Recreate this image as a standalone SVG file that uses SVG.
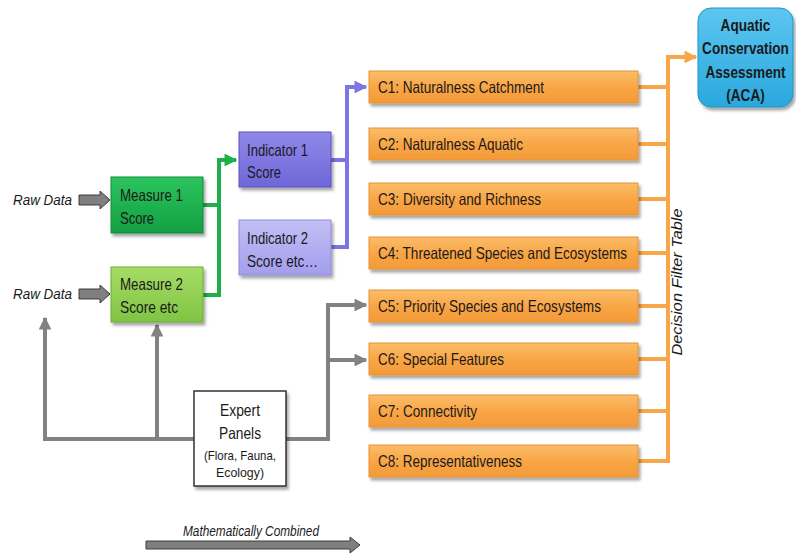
<svg xmlns="http://www.w3.org/2000/svg" width="796" height="554" viewBox="0 0 796 554">
<style>
text{font-family:"Liberation Sans",Arial,sans-serif;fill:#1a1a1a}
.bt{font-size:16.5px}
.it{font-style:italic;font-size:15.5px}
.c{font-size:16.5px}
.g{fill:none;stroke:#828282;stroke-width:4}
.gr{fill:none;stroke:#1fae4a;stroke-width:4}
.pu{fill:none;stroke:#7b76e4;stroke-width:4}
.or{fill:none;stroke:#f9a64a;stroke-width:4}
.cb{fill:url(#og);stroke:#e8923a;stroke-width:1;filter:url(#sh)}
</style>
<defs>
<filter id="sh" x="-10%" y="-10%" width="130%" height="140%"><feDropShadow dx="2" dy="3" stdDeviation="1.8" flood-color="#000" flood-opacity="0.35"/></filter>
<linearGradient id="og" x1="0" y1="0" x2="0" y2="1"><stop offset="0" stop-color="#fbbd6a"/><stop offset="0.5" stop-color="#f9a646"/><stop offset="1" stop-color="#f39a38"/></linearGradient>
<linearGradient id="g1" x1="0" y1="0" x2="0" y2="1"><stop offset="0" stop-color="#2cc45e"/><stop offset="1" stop-color="#13a043"/></linearGradient>
<linearGradient id="g2" x1="0" y1="0" x2="0" y2="1"><stop offset="0" stop-color="#a6dc66"/><stop offset="1" stop-color="#80c443"/></linearGradient>
<linearGradient id="p1" x1="0" y1="0" x2="0" y2="1"><stop offset="0" stop-color="#8f89ea"/><stop offset="1" stop-color="#6f67d8"/></linearGradient>
<linearGradient id="p2" x1="0" y1="0" x2="0" y2="1"><stop offset="0" stop-color="#c2bff6"/><stop offset="1" stop-color="#a29eec"/></linearGradient>
<linearGradient id="bg" x1="0" y1="0" x2="0" y2="1"><stop offset="0" stop-color="#5cc6f0"/><stop offset="1" stop-color="#2aa8de"/></linearGradient>
<marker id="ag" viewBox="0 0 10 10" refX="9" refY="5" markerWidth="3.2" markerHeight="3.2" orient="auto" markerUnits="strokeWidth"><path d="M0,0L10,5L0,10z" fill="#828282"/></marker>
<marker id="agr" viewBox="0 0 10 10" refX="9" refY="5" markerWidth="3.2" markerHeight="3.2" orient="auto" markerUnits="strokeWidth"><path d="M0,0L10,5L0,10z" fill="#1fae4a"/></marker>
<marker id="apu" viewBox="0 0 10 10" refX="9" refY="5" markerWidth="3.2" markerHeight="3.2" orient="auto" markerUnits="strokeWidth"><path d="M0,0L10,5L0,10z" fill="#7b76e4"/></marker>
<marker id="aor" viewBox="0 0 10 10" refX="9" refY="5" markerWidth="3.2" markerHeight="3.2" orient="auto" markerUnits="strokeWidth"><path d="M0,0L10,5L0,10z" fill="#f9a64a"/></marker>
</defs>
<rect width="796" height="554" fill="#fff"/>

<g id="connectors">
<path class="gr" d="M203,205H219V160H236" marker-end="url(#agr)"/>
<path class="gr" d="M203,295H219V205"/>
<path class="pu" d="M331,160H347V87H366" marker-end="url(#apu)"/>
<path class="pu" d="M331,247H347V160"/>
<path class="or" d="M638,87H668"/>
<path class="or" d="M638,144H668"/>
<path class="or" d="M638,199H668"/>
<path class="or" d="M638,253H668"/>
<path class="or" d="M638,306H668"/>
<path class="or" d="M638,359H668"/>
<path class="or" d="M638,411H668"/>
<path class="or" d="M638,461H668V57H696" marker-end="url(#aor)"/>
<path class="g" d="M194,439H45V318" marker-end="url(#ag)"/>
<path class="g" d="M157,439V325" marker-end="url(#ag)"/>
<path class="g" d="M286,439H328V305H366" marker-end="url(#ag)"/>
<path class="g" d="M328,360H366" marker-end="url(#ag)"/>
<path d="M79,195H100V191L110,200L100,209V205H79Z" fill="#7f7f7f" stroke="#3c3c3c" stroke-width="1"/>
<path d="M79,289H100V285L110,294L100,303V299H79Z" fill="#7f7f7f" stroke="#3c3c3c" stroke-width="1"/>
<path d="M146,541H350V537L360,545L350,553V549H146Z" fill="#7f7f7f" stroke="#3c3c3c" stroke-width="1"/>
</g>

<text class="it" x="13" y="205" textLength="59" lengthAdjust="spacingAndGlyphs">Raw Data</text>
<text class="it" x="13" y="299" textLength="59" lengthAdjust="spacingAndGlyphs">Raw Data</text>
<text class="it" x="183" y="536" textLength="136" lengthAdjust="spacingAndGlyphs" style="font-size:14px">Mathematically Combined</text>
<text class="it" transform="translate(682,282) rotate(-90)" text-anchor="middle" textLength="147" lengthAdjust="spacingAndGlyphs" style="font-size:14px">Decision Filter Table</text>

<g id="measure1">
<rect x="111" y="177" width="92" height="56" fill="url(#g1)" stroke="#0f8a38" filter="url(#sh)"/>
<text class="bt" x="120" y="201" textLength="63" lengthAdjust="spacingAndGlyphs">Measure 1</text>
<text class="bt" x="120" y="224" textLength="34" lengthAdjust="spacingAndGlyphs">Score</text>
</g>
<g id="measure2">
<rect x="111" y="267" width="92" height="55" fill="url(#g2)" stroke="#6aae35" filter="url(#sh)"/>
<text class="bt" x="120" y="290" textLength="63" lengthAdjust="spacingAndGlyphs">Measure 2</text>
<text class="bt" x="120" y="313" textLength="58" lengthAdjust="spacingAndGlyphs">Score etc</text>
</g>
<g id="indicator1">
<rect x="239" y="132" width="92" height="55" fill="url(#p1)" stroke="#5a53c0" filter="url(#sh)"/>
<text class="bt" x="247" y="156" textLength="61" lengthAdjust="spacingAndGlyphs">Indicator 1</text>
<text class="bt" x="247" y="178" textLength="34" lengthAdjust="spacingAndGlyphs">Score</text>
</g>
<g id="indicator2">
<rect x="239" y="220" width="92" height="55" fill="url(#p2)" stroke="#8f8ad8" filter="url(#sh)"/>
<text class="bt" x="247" y="244" textLength="61" lengthAdjust="spacingAndGlyphs">Indicator 2</text>
<text class="bt" x="247" y="267" textLength="71" lengthAdjust="spacingAndGlyphs">Score etc…</text>
</g>

<g id="c1"><rect class="cb" x="369" y="71" width="269" height="32"/><text class="c" x="378" y="93" textLength="166" lengthAdjust="spacingAndGlyphs">C1: Naturalness Catchment</text></g>
<g id="c2"><rect class="cb" x="369" y="128" width="269" height="32"/><text class="c" x="378" y="150" textLength="145" lengthAdjust="spacingAndGlyphs">C2: Naturalness Aquatic</text></g>
<g id="c3"><rect class="cb" x="369" y="183" width="269" height="32"/><text class="c" x="378" y="205" textLength="163" lengthAdjust="spacingAndGlyphs">C3: Diversity and Richness</text></g>
<g id="c4"><rect class="cb" x="369" y="237" width="269" height="32"/><text class="c" x="378" y="259" textLength="249" lengthAdjust="spacingAndGlyphs">C4: Threatened Species and Ecosystems</text></g>
<g id="c5"><rect class="cb" x="369" y="290" width="269" height="32"/><text class="c" x="378" y="312" textLength="223" lengthAdjust="spacingAndGlyphs">C5: Priority Species and Ecosystems</text></g>
<g id="c6"><rect class="cb" x="369" y="343" width="269" height="32"/><text class="c" x="378" y="365" textLength="126" lengthAdjust="spacingAndGlyphs">C6: Special Features</text></g>
<g id="c7"><rect class="cb" x="369" y="395" width="269" height="32"/><text class="c" x="378" y="417" textLength="99" lengthAdjust="spacingAndGlyphs">C7: Connectivity</text></g>
<g id="c8"><rect class="cb" x="369" y="445" width="269" height="32"/><text class="c" x="378" y="467" textLength="144" lengthAdjust="spacingAndGlyphs">C8: Representativeness</text></g>

<g id="aca">
<rect x="698" y="8" width="95" height="99" rx="13" fill="url(#bg)" stroke="#1f93c4" filter="url(#sh)"/>
<g text-anchor="middle" font-weight="bold" style="font-size:16px" transform="translate(745.5,0) scale(0.85,1)">
<text x="0" y="31">Aquatic</text>
<text x="0" y="54">Conservation</text>
<text x="0" y="78">Assessment</text>
<text x="0" y="101">(ACA)</text>
</g>
</g>

<g id="expert">
<rect x="194" y="391" width="92" height="95" fill="#fff" stroke="#333" stroke-width="1.5" filter="url(#sh)"/>
<g text-anchor="middle">
<text x="240" y="416" style="font-size:16.5px" textLength="40" lengthAdjust="spacingAndGlyphs">Expert</text>
<text x="240" y="439" style="font-size:16.5px" textLength="42" lengthAdjust="spacingAndGlyphs">Panels</text>
<text x="240" y="460" style="font-size:13px" textLength="72" lengthAdjust="spacingAndGlyphs">(Flora, Fauna,</text>
<text x="240" y="477" style="font-size:13px" textLength="48" lengthAdjust="spacingAndGlyphs">Ecology)</text>
</g>
</g>
</svg>
